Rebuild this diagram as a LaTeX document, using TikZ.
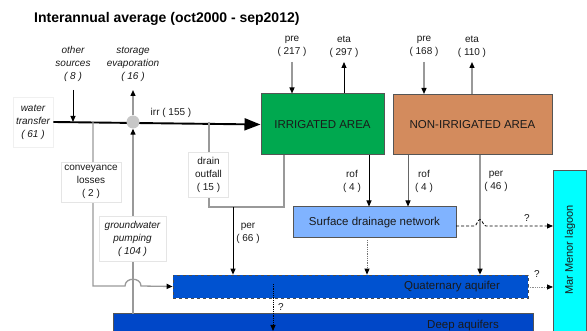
\documentclass[tikz,border=0pt]{standalone}
\usepackage{fontspec}
\setmainfont{Liberation Sans}
\usetikzlibrary{arrows.meta}

\definecolor{irrgreen}{HTML}{00A84F}
\definecolor{nonirr}{HTML}{D38B5D}
\definecolor{sdnblue}{HTML}{80B3FF}
\definecolor{quatblue}{HTML}{0052D0}
\definecolor{deepblue}{HTML}{0047C8}
\definecolor{lagoon}{HTML}{00FFFF}
\definecolor{edge}{HTML}{555555}
\definecolor{flowgray}{HTML}{999999}
\definecolor{textdark}{HTML}{1A1A1A}

\tikzset{
  zone/.style={draw=edge, line width=1pt, inner sep=0pt, text=textdark,
    font=\fontsize{11.5}{14}\selectfont},
  lbl/.style={align=center, inner sep=0pt, text=textdark,
    font=\fontsize{10}{13}\selectfont},
  lblbox/.style={lbl, fill=white, draw=black!10, line width=0.6pt},
  tip/.style={-{Triangle[length=6pt,width=5pt,color=black]}},
  blackflow/.style={tip, draw=black, line width=0.9pt},
  grayflow/.style={tip, draw=flowgray, line width=1.3pt},
  darkflow/.style={tip, draw=black!60, line width=1pt},
  grayline/.style={draw=flowgray, line width=1.3pt},
  unknownflow/.style={tip, line width=0.8pt, densely dotted},
}

\begin{document}
\begin{tikzpicture}[x=1pt,y=-1pt]
\useasboundingbox (0,0) rectangle (587,331);

% title
\node[anchor=base west, inner sep=0pt, font=\fontsize{14}{16}\selectfont\bfseries]
  (title) at (34,23) {Interannual average (oct2000 - sep2012)};

% land areas and water bodies
\node[zone, fill=irrgreen, minimum width=123pt, minimum height=61pt] (ia) at (322.5,124.5) {IRRIGATED AREA};
\node[zone, fill=nonirr, minimum width=159pt, minimum height=60pt] (nia) at (472.5,124.5) {\raisebox{-3pt}{NON-IRRIGATED AREA}};
\node[zone, fill=sdnblue, minimum width=163pt, minimum height=31pt] (sdn) at (374.5,222.5) {Surface drainage network};
\node[zone, fill=quatblue, dashed, draw=black!70, line width=0.7pt, minimum width=355pt, minimum height=23pt] (qa) at (350.5,286.5) {};
\node[lbl, font=\fontsize{11.5}{14}\selectfont] (qatext) at (452,287) {Quaternary aquifer};
\node[zone, fill=deepblue, minimum width=420pt, minimum height=30pt] (deep) at (323,329) {};
\node[lbl, font=\fontsize{11.5}{14}\selectfont] (deeptext) at (463,326) {Deep aquifers};
\node[zone, fill=lagoon, minimum width=33pt, minimum height=175pt] (mm) at (569.5,258.5) {};
\node[lbl, rotate=90, font=\fontsize{11}{13}\selectfont] (mmtext) at (570,250) {Mar Menor lagoon};

% water transfer and main irrigation line
\node[lblbox, draw=black!6, minimum width=40pt, minimum height=50pt, font=\fontsize{10}{13}\selectfont\itshape] (wt) at (33,122) {water\\transfer\\( 61 )};
\draw[line width=1.9pt, -{Triangle[length=16pt,width=12pt]}] (wt.east) -- (ia.west);
\node[lbl] (irr) at (171,113) {irr ( 155 )};

% storage hub
\node[circle, fill=black!22, minimum size=13pt, inner sep=0pt] (hub) at (133,122) {};

% other sources
\node[lbl, font=\fontsize{10}{13}\selectfont\itshape] (os) at (73,64) {other\\sources\\( 8 )};
\coordinate (osstart) at (73,90);
\coordinate (osend) at (73,122);
\draw[blackflow] (osstart) -- (osend);

% storage evaporation
\node[lbl, font=\fontsize{10}{13}\selectfont\itshape] (se) at (133,64) {storage\\evaporation\\( 16 )};
\coordinate (seend) at (133,90);
\draw[grayflow] (hub.north) -- (seend);

% groundwater pumping
\coordinate (gpstart) at (133,314);
\draw[grayflow] (gpstart) -- (hub.south);
\node[lblbox, minimum width=67pt, minimum height=45pt, font=\fontsize{10}{13}\selectfont\itshape] (gp) at (132.5,238.5) {groundwater\\pumping\\( 104 )};

% conveyance losses
\coordinate (clstart) at (93,122);
\coordinate (clcorner) at (93,286);
\draw[grayline, tip] (clstart) -- (clcorner) -- (125,286)
  .. controls (125,277) and (141,277) .. (141,286) -- (qa.west);
\node[lblbox, minimum width=60pt, minimum height=40pt] (cl) at (91,182) {conveyance\\losses\\( 2 )};

% drain outfall
\coordinate (dostart) at (209,122);
\coordinate (docorner) at (209,207);
\coordinate (iabottom) at (284,155);
\coordinate (iacorner) at (284,207);
\draw[grayline] (dostart) -- (docorner) -- (iacorner) -- (iabottom);
\node[lblbox, minimum width=40pt, minimum height=45pt] (do) at (208.5,174.5) {drain\\outfall\\( 15 )};

% percolation from irrigated area
\coordinate (perstart) at (233,207);
\draw[blackflow] (perstart) -- (perstart |- qa.north);
\node[lbl] (per66) at (248,233) {per\\( 66 )};

% precipitation and evapotranspiration
\node[lbl] (pre1) at (292,46.5) {pre\\( 217 )};
\node[lbl] (eta1) at (344,46.5) {eta\\( 297 )};
\node[lbl] (pre2) at (424,46.5) {pre\\( 168 )};
\node[lbl] (eta2) at (472,46.5) {eta\\( 110 )};
\coordinate (pre1start) at (292,62);
\coordinate (eta1end) at (344,62);
\coordinate (pre2start) at (424,62);
\coordinate (eta2end) at (472,62);
\draw[grayflow] (pre1start) -- (pre1start |- ia.north);
\draw[blackflow] (eta1end |- ia.north) -- (eta1end);
\draw[grayflow] (pre2start) -- (pre2start |- nia.north);
\draw[grayflow] (eta2end |- nia.north) -- (eta2end);

% runoff to the surface drainage network
\coordinate (rof1) at (369,155);
\coordinate (rof2) at (408,155);
\draw[blackflow] (rof1) -- (rof1 |- sdn.north);
\draw[darkflow] (rof2) -- (rof2 |- sdn.north);
\node[lbl] (rof1lbl) at (352,181.5) {rof\\( 4 )};
\node[lbl] (rof2lbl) at (424,181.5) {rof\\( 4 )};

% percolation from non-irrigated area
\coordinate (per46start) at (480,155);
\draw[grayflow] (per46start) -- (per46start |- qa.north);
\node[lbl] (per46) at (496,181.5) {per\\( 46 )};

% unknown flows
\coordinate (sdnout) at (456,226);
\coordinate (mmin1) at (553,226);
\draw[tip, line width=0.8pt, densely dashed] (sdnout) -- (474,226)
  .. controls (477,226) and (477.5,219.5) .. (480,219.5)
  .. controls (482.5,219.5) and (483,226) .. (486,226) -- (mmin1);
\node[lbl] (q1) at (527,218) {?};

\coordinate (sdnbottom) at (367,240);
\draw[unknownflow, draw=black!55] (sdnbottom) -- (sdnbottom |- qa.north);

\coordinate (qaout) at (528,287);
\coordinate (mmin2) at (553,287);
\draw[unknownflow, draw=black!45] (qaout) -- (mmin2);
\node[lbl] (q2) at (537,274) {?};

\coordinate (qadown) at (273,284);
\coordinate (deepin) at (273,331);
\draw[unknownflow, draw=black] (qadown) -- (deepin);
\node[lbl] (q3) at (281,307) {?};

\end{tikzpicture}
\end{document}
